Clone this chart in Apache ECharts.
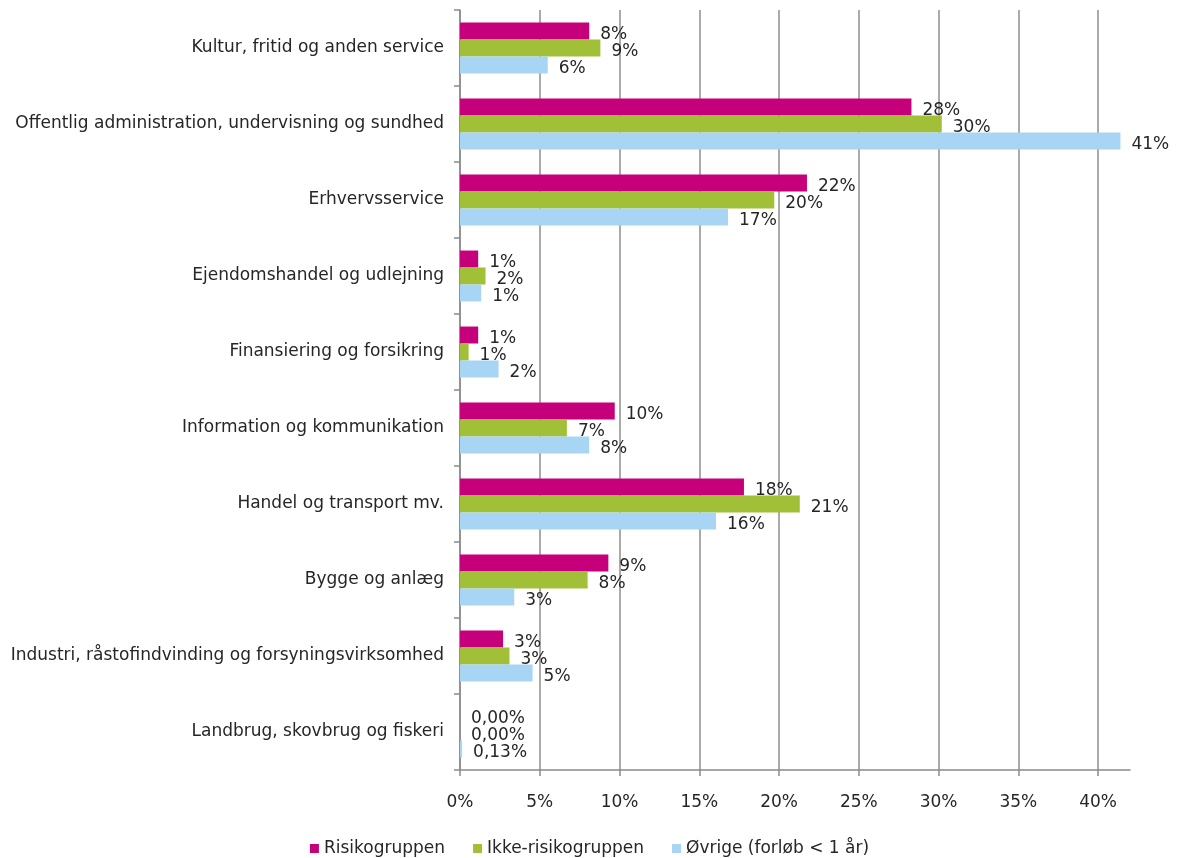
<!DOCTYPE html>
<html>
<head>
<meta charset="utf-8">
<script src="https://cdn.jsdelivr.net/npm/echarts@6/dist/echarts.min.js"></script>
<style>
  html, body { margin: 0; padding: 0; background: #ffffff; }
  #chart { width: 1179px; height: 858px; }
</style>
</head>
<body>
<div id="chart"></div>
<script>
// Categories, top to bottom
const categories = [
  'Kultur, fritid og anden service',
  'Offentlig administration, undervisning og sundhed',
  'Erhvervsservice',
  'Ejendomshandel og udlejning',
  'Finansiering og forsikring',
  'Information og kommunikation',
  'Handel og transport mv.',
  'Bygge og anlæg',
  'Industri, råstofindvinding og forsyningsvirksomhed',
  'Landbrug, skovbrug og fiskeri'
];
// Decimals shown in the data labels for each category
const labelDecimals = [0, 0, 0, 0, 0, 0, 0, 0, 0, 2];

const seriesNames = ['Risikogruppen', 'Ikke-risikogruppen', 'Øvrige (forløb < 1 år)'];
// Values in percent
const risiko     = [8.1, 28.3, 21.75, 1.14, 1.14, 9.7, 17.8, 9.3, 2.7, 0.00];
const ikkeRisiko = [8.8, 30.2, 19.7, 1.6, 0.54, 6.7, 21.3, 8.0, 3.1, 0.00];
const oevrige    = [5.5, 41.4, 16.8, 1.33, 2.42, 8.1, 16.05, 3.4, 4.55, 0.13];

const xTicks = [0, 5, 10, 15, 20, 25, 30, 35, 40];
const xMax = 42;

const colors = ['#C5007A', '#A1C037', '#A9D5F5'];
const FONT = 'DejaVu Sans';
const TEXT = '#262626';

function fmtLabel(p) {
  const d = labelDecimals[p.dataIndex];
  let s = p.value.toFixed(d);
  if (d > 0) s = s.replace('.', ',');
  return s + '%';
}

function mkSeries(name, data, color) {
  return {
    name: name,
    type: 'bar',
    data: data,
    barGap: '0%',
    barCategoryGap: '33%',
    itemStyle: { color: color },
    label: {
      show: true,
      position: 'right',
      distance: 11,
      offset: [0, 4],
      formatter: fmtLabel,
      fontFamily: FONT,
      fontSize: 17,
      color: TEXT
    }
  };
}

const chart = echarts.init(document.getElementById('chart'), null, { renderer: 'canvas' });
chart.setOption({
  animation: false,
  backgroundColor: '#ffffff',
  color: colors,
  grid: { left: 460, right: 49, top: 10, bottom: 88, containLabel: false },
  legend: {
    top: 835,
    left: 'center',
    itemWidth: 9,
    itemHeight: 9,
    itemGap: 28,
    icon: 'rect',
    textStyle: { fontFamily: FONT, fontSize: 17, color: TEXT },
    data: seriesNames
  },
  xAxis: {
    type: 'value',
    min: 0,
    max: xMax,
    interval: 5,
    axisLine: { show: true, lineStyle: { color: '#8a8a8a', width: 1.5 } },
    axisTick: { show: true, length: 6, lineStyle: { color: '#8a8a8a', width: 1.5 } },
    axisLabel: {
      margin: 24,
      fontFamily: FONT,
      fontSize: 17,
      color: TEXT,
      showMaxLabel: false,
      formatter: function (v) { return xTicks.indexOf(v) >= 0 ? v + '%' : ''; }
    },
    splitLine: {
      show: true,
      lineStyle: {
        width: 1.5,
        color: ['#8e8e8e', '#8e8e8e', '#8e8e8e', '#8e8e8e', '#8e8e8e',
                '#8e8e8e', '#8e8e8e', '#8e8e8e', '#8e8e8e', 'rgba(0,0,0,0)']
      }
    }
  },
  yAxis: {
    type: 'category',
    inverse: true,
    data: categories,
    axisLine: { show: true, lineStyle: { color: '#8a8a8a', width: 1.5 } },
    axisTick: { show: true, length: 6, alignWithLabel: false, lineStyle: { color: '#8a8a8a', width: 1.5 } },
    axisLabel: { margin: 16, padding: [8, 0, 0, 0], fontFamily: FONT, fontSize: 17, color: TEXT }
  },
  series: [
    mkSeries(seriesNames[0], risiko, colors[0]),
    mkSeries(seriesNames[1], ikkeRisiko, colors[1]),
    mkSeries(seriesNames[2], oevrige, colors[2])
  ]
});
</script>
</body>
</html>
